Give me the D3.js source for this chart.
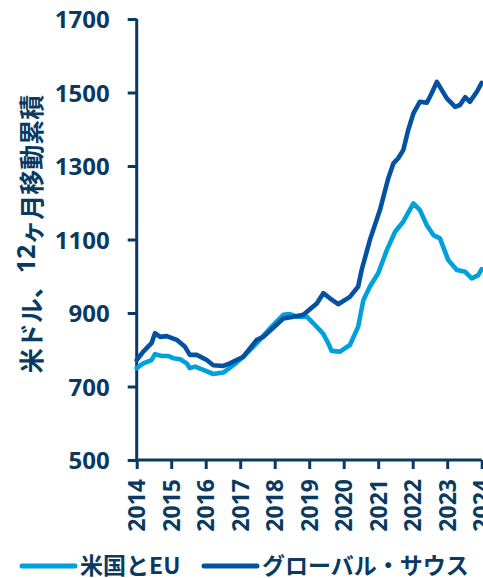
<!DOCTYPE html>
<html>
<head>
<meta charset="utf-8">
<script src="https://cdn.jsdelivr.net/npm/d3@7"></script>
<style>
  html, body { margin: 0; padding: 0; background: #fff; }
  svg { display: block; }
</style>
</head>
<body>
<svg id="chart" width="483" height="578"></svg>
<script>
// ---- data ----
const yearTicks = [2014, 2015, 2016, 2017, 2018, 2019, 2020, 2021, 2022, 2023, 2024];
const valueTicks = [500, 700, 900, 1100, 1300, 1500, 1700];
const seriesNames = ["米国とEU", "グローバル・サウス"];
const yAxisLabelParts = ["米ドル、", "12", "ヶ月移動累積"];

const usEuDates = [2014.00, 2014.19, 2014.43, 2014.53, 2014.72, 2014.92, 2015.06, 2015.26, 2015.45, 2015.54,
  2015.69, 2015.93, 2016.22, 2016.51, 2016.80, 2017.09, 2017.48, 2017.86, 2018.25, 2018.44,
  2018.64, 2018.93, 2019.12, 2019.41, 2019.55, 2019.65, 2019.89, 2020.18, 2020.42, 2020.57,
  2020.76, 2021.00, 2021.25, 2021.49, 2021.73, 2022.02, 2022.21, 2022.41, 2022.60, 2022.79,
  2023.03, 2023.28, 2023.52, 2023.71, 2023.90, 2024.00];
const usEuValues = [750, 763, 772, 788, 783, 783, 777, 774, 763, 750,
  754, 745, 734, 738, 758, 781, 818, 858, 895, 897,
  890, 890, 872, 843, 818, 797, 795, 813, 863, 935,
  972, 1008, 1071, 1121, 1149, 1198, 1180, 1139, 1112, 1103,
  1044, 1017, 1012, 994, 1003, 1019];

const southDates = [2014.00, 2014.19, 2014.43, 2014.53, 2014.68, 2014.87, 2015.16, 2015.40, 2015.54, 2015.74,
  2016.03, 2016.22, 2016.51, 2016.70, 2017.09, 2017.48, 2017.67, 2018.25, 2018.54, 2018.83,
  2019.22, 2019.41, 2019.60, 2019.84, 2020.18, 2020.42, 2020.52, 2020.76, 2021.05, 2021.29,
  2021.44, 2021.58, 2021.73, 2021.87, 2022.02, 2022.21, 2022.41, 2022.55, 2022.70, 2022.84,
  2022.99, 2023.23, 2023.37, 2023.52, 2023.66, 2023.86, 2024.00];
const southValues = [772, 795, 818, 845, 835, 837, 827, 808, 786, 786,
  772, 758, 756, 763, 781, 827, 835, 885, 890, 895,
  926, 954, 940, 924, 944, 972, 1017, 1099, 1180, 1266,
  1307, 1321, 1344, 1398, 1443, 1475, 1472, 1498, 1529, 1507,
  1484, 1461, 1466, 1487, 1475, 1502, 1526];

// ---- styles ----
const navy = "#0a3a62";
const lightBlue = "#00a0df";
const darkBlue = "#0352a2";
const latinFont = "'Noto Sans', 'Noto Sans CJK JP', sans-serif";
const cjkFont = "'Noto Sans CJK JP', 'Noto Sans', sans-serif";

const svg = d3.select("#chart");
const x = d3.scaleLinear().domain([2014, 2024]).range([136.7, 481.7]);
const y = d3.scaleLinear().domain([500, 1700]).range([460, 19]);

// y axis
const yAxis = svg.append("g").attr("transform", "translate(136.7,0)")
  .call(d3.axisLeft(y).tickValues(valueTicks).tickSize(9).tickPadding(18).tickFormat(d3.format("d")));
yAxis.select(".domain").attr("stroke", navy).attr("stroke-width", 3).attr("d", `M0,${y(1700)}V${y(500)}`);
yAxis.selectAll(".tick line").attr("stroke", navy).attr("stroke-width", 3);
yAxis.selectAll(".tick text").attr("fill", navy).attr("font-family", latinFont)
  .attr("font-weight", 700).attr("font-size", 24).attr("dy", "0.36em");

// x axis
const xAxis = svg.append("g").attr("transform", `translate(0,${y(500)})`)
  .call(d3.axisBottom(x).tickValues(yearTicks).tickSize(9).tickFormat(d3.format("d")));
xAxis.select(".domain").attr("stroke", navy).attr("stroke-width", 3).attr("d", `M${x(2014)},0H${x(2024)}`);
xAxis.selectAll(".tick line").attr("stroke", navy).attr("stroke-width", 3);
xAxis.selectAll(".tick text").attr("fill", navy).attr("font-family", latinFont)
  .attr("font-weight", 700).attr("font-size", 23)
  .attr("text-anchor", "end").attr("x", 0).attr("y", 0).attr("dy", "0.36em")
  .attr("transform", "translate(0,19) rotate(-90)");

// lines
const line = d3.line().x(d => x(d[0])).y(d => y(d[1]));
const usEu = d3.zip(usEuDates, usEuValues);
const south = d3.zip(southDates, southValues);
svg.append("path").datum(usEu).attr("d", line).attr("fill", "none")
  .attr("stroke", lightBlue).attr("stroke-width", 4.6).attr("stroke-linejoin", "round").attr("stroke-linecap", "round");
svg.append("path").datum(south).attr("d", line).attr("fill", "none")
  .attr("stroke", darkBlue).attr("stroke-width", 4.6).attr("stroke-linejoin", "round").attr("stroke-linecap", "round");

// y axis title
const yt = svg.append("text").attr("transform", "translate(41,234) rotate(-90)")
  .attr("text-anchor", "middle").attr("fill", navy).attr("font-weight", 700)
  .attr("font-size", 25).attr("font-family", cjkFont);
yt.append("tspan").text(yAxisLabelParts[0]);
yt.append("tspan").attr("font-family", latinFont).attr("dy", -6).text(yAxisLabelParts[1]);
yt.append("tspan").attr("dy", 6).text(yAxisLabelParts[2]);

// legend
const legend = [
  { name: seriesNames[0], color: lightBlue, x1: 22, x2: 75, tx: 80 },
  { name: seriesNames[1], color: darkBlue, x1: 204, x2: 257, tx: 262 }
];
const lg = svg.append("g");
legend.forEach(l => {
  lg.append("line").attr("x1", l.x1).attr("x2", l.x2).attr("y1", 566).attr("y2", 566)
    .attr("stroke", l.color).attr("stroke-width", 5).attr("stroke-linecap", "round");
  lg.append("text").attr("x", l.tx).attr("y", 566).attr("dy", "0.36em")
    .attr("fill", navy).attr("font-weight", 700).attr("font-size", 23).attr("font-family", cjkFont)
    .text(l.name);
});
</script>
</body>
</html>
